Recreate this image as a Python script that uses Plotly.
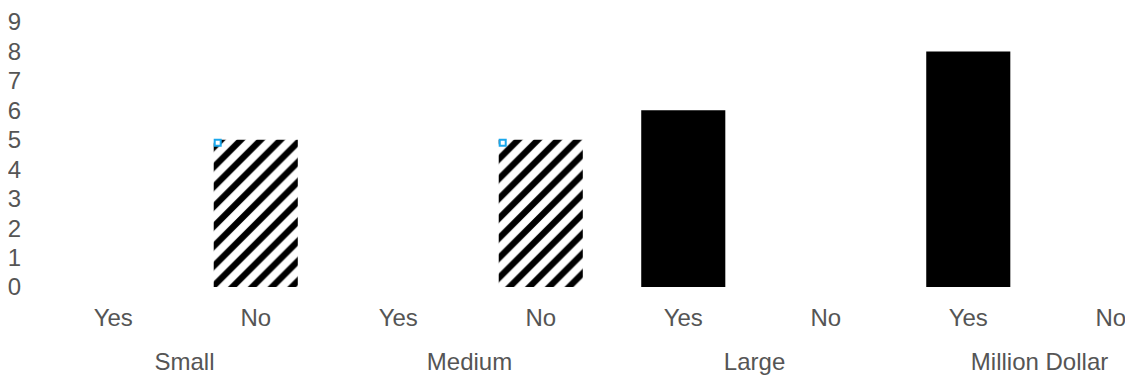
import plotly.graph_objects as go

groups = ["Small", "Medium", "Large", "Million Dollar"]
answers = ["Yes", "No", "Yes", "No", "Yes", "No", "Yes", "No"]
hatched_values = [None, 5, None, 5, None, None, None, None]
solid_values = [None, None, None, None, 6, None, 8, None]
y_ticks = [0, 1, 2, 3, 4, 5, 6, 7, 8, 9]

BAR_W = 0.59
X_RANGE = [-0.5, 7.212]
FONT = dict(family="Liberation Sans, Arial, Helvetica, sans-serif", size=24, color="#555555")

pos = list(range(len(answers)))
group_pos = [(pos[2 * i] + pos[2 * i + 1]) / 2 for i in range(len(groups))]

fig = go.Figure()
fig.add_trace(go.Bar(
    x=pos, y=hatched_values, width=BAR_W,
    marker=dict(color="white", line=dict(width=0),
                pattern=dict(shape="/", fgcolor="black", bgcolor="white", fgopacity=1,
                             size=14, solidity=0.45)),
    showlegend=False,
))
fig.add_trace(go.Bar(
    x=pos, y=solid_values, width=BAR_W,
    marker=dict(color="black", line=dict(width=0)),
    showlegend=False,
))

# small selection handles at top-left corner of hatched bars
hx = [i - BAR_W / 2 + 0.028 for i, v in zip(pos, hatched_values) if v is not None]
hy = [v - 0.1 for v in hatched_values if v is not None]
fig.add_trace(go.Scatter(
    x=hx, y=hy, mode="markers",
    marker=dict(symbol="square", size=6, color="white", line=dict(color="#1aa7ec", width=2)),
    showlegend=False, hoverinfo="skip", cliponaxis=False,
))
# group label axis carrier
fig.add_trace(go.Scatter(x=group_pos, y=[None] * len(groups), xaxis="x2",
                         showlegend=False, hoverinfo="skip"))

fig.update_layout(
    width=1133, height=379,
    margin=dict(l=34, r=0, t=8, b=100),
    paper_bgcolor="white", plot_bgcolor="white",
    barmode="overlay",
    font=FONT,
    xaxis=dict(range=X_RANGE, tickvals=pos, ticktext=answers, showgrid=False, zeroline=False,
               showline=False, ticks="", tickfont=FONT, ticklabelstandoff=14,
               ticklabeloverflow="allow"),
    xaxis2=dict(overlaying="x", side="bottom", anchor="y", range=X_RANGE, tickvals=group_pos,
                ticktext=groups, showgrid=False, zeroline=False, showline=False, ticks="",
                tickfont=FONT, ticklabelstandoff=58, ticklabeloverflow="allow"),
    yaxis=dict(range=[0, 9], tickvals=y_ticks, showgrid=False, zeroline=False,
               showline=False, ticks="", tickfont=FONT, ticklabelstandoff=20,
               ticklabeloverflow="allow"),
)

fig.write_html("out.html")
